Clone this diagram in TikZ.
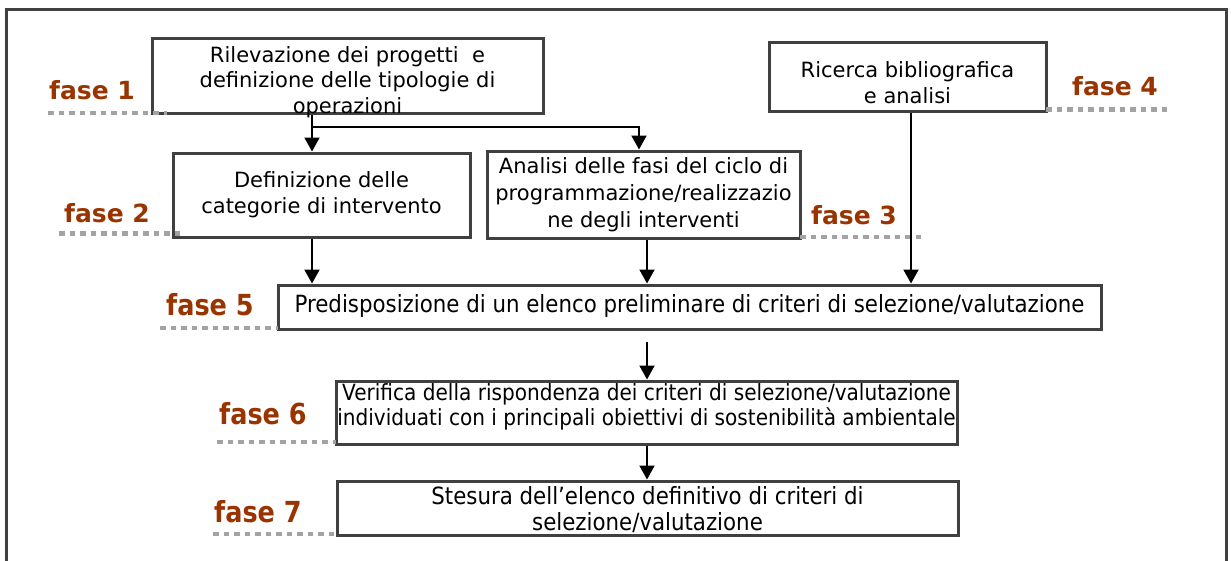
\documentclass[tikz,border=0pt]{standalone}
\usepackage{fontspec}
\setmainfont{DejaVu Sans}
\newfontfamily\condfont[FakeStretch=0.9]{DejaVu Sans}
\newfontfamily\fasecondfont[FakeStretch=0.88]{DejaVu Sans}
\usetikzlibrary{arrows.meta}
\definecolor{boxgray}{RGB}{64,64,64}
\definecolor{dotgray}{RGB}{163,163,163}
\definecolor{fasebrown}{RGB}{153,51,0}
\begin{document}
\begin{tikzpicture}[x=1pt,y=-1pt,
  box/.style={draw=boxgray, line width=3pt, inner sep=0pt, rectangle},
  boxtext/.style={align=center, inner sep=0pt, text=black},
  normtext/.style={boxtext, font=\fontsize{21}{#1}\selectfont},
  condtext/.style={boxtext, font=\condfont\fontsize{23.7}{#1}\selectfont},
  fase/.style={anchor=base west, inner sep=0pt, text=fasebrown, font=\bfseries\fontsize{25}{30}\selectfont},
  fasecond/.style={anchor=base west, inner sep=0pt, text=fasebrown, font=\fasecondfont\bfseries\fontsize{29}{34}\selectfont},
  dotline/.style={draw=dotgray, line width=4.5pt, dash pattern=on 5.5pt off 5pt},
  arr/.style={draw=black, line width=2pt, -{Triangle[width=15pt,length=14pt]}},
  frameline/.style={draw=boxgray, line width=3pt}
]
\useasboundingbox (0,0) rectangle (1231,560);

% outer frame (bottom edge cut off)
\draw[frameline] (6.5,561) -- (6.5,9.5) -- (1226,9.5) -- (1226,561);

% boxes
\node[box, minimum width=391pt, minimum height=75pt] (b1) at (347.5,75.5) {};
\node[box, minimum width=297pt, minimum height=84pt] (b2) at (321.5,195) {};
\node[box, minimum width=313pt, minimum height=87pt] (b3) at (643.5,194.5) {};
\node[box, minimum width=277pt, minimum height=69pt] (b4) at (907.5,76.5) {};
\node[box, minimum width=823pt, minimum height=44pt] (b5) at (689.5,307) {};
\node[box, minimum width=621pt, minimum height=63pt] (b6) at (646.5,412.5) {};
\node[box, minimum width=621pt, minimum height=54pt] (b7) at (647.5,508) {};

% box texts
\node[normtext=25.5] (t1) at (347.5,82) {Rilevazione dei progetti \ e\\definizione delle tipologie di\\operazioni};
\node[normtext=26] (t2) at (321.5,195) {Definizione delle\\categorie di intervento};
\node[normtext=27] (t3) at (643.5,195) {Analisi delle fasi del ciclo di\\programmazione/realizzazio\\ne degli interventi};
\node[normtext=26] (t4) at (907.5,82.5) {Ricerca bibliografica\\e analisi};
\node[condtext=28] (t5) at (689.5,306) {Predisposizione di un elenco preliminare di criteri di selezione/valutazione};
\node[boxtext, font=\condfont\fontsize{22.3}{25}\selectfont] (t6) at (646.5,407) {Verifica della rispondenza dei criteri di selezione/valutazione\\individuati con i principali obiettivi di sostenibilità ambientale};
\node[condtext=26] (t7) at (647.5,510) {Stesura dell’elenco definitivo di criteri di\\selezione/valutazione};

% phase labels
\node[fase] (f1) at (49,99) {fase 1};
\node[fase] (f2) at (64,222) {fase 2};
\node[fase] (f3) at (811,224) {fase 3};
\node[fase] (f4) at (1072,95) {fase 4};
\node[fasecond] (f5) at (166,315) {fase 5};
\node[fasecond] (f6) at (219,424) {fase 6};
\node[fasecond] (f7) at (214,522) {fase 7};

% dotted underlines
\draw[dotline] (48,113) -- (167,113);
\draw[dotline] (59,233.5) -- (180,233.5);
\draw[dotline] (800,237) -- (923,237);
\draw[dotline] (1046,109.5) -- (1169,109.5);
\draw[dotline] (160,328) -- (278,328);
\draw[dotline] (217,442) -- (336,442);
\draw[dotline] (213,534) -- (337,534);

% connector guide coordinates
\coordinate (x1) at (312,0);
\coordinate (x3) at (639,0);
\coordinate (x3b) at (647,0);
\coordinate (x4) at (911,0);
\coordinate (j1) at (312,127);
\coordinate (a5) at (647,342);

% connectors
\draw[arr] (b1.south -| x1) -- (b2.north -| x1);
\draw[arr] (j1) -| (b3.north -| x3);
\draw[arr] (b2.south -| x1) -- (b5.north -| x1);
\draw[arr] (b3.south -| x3b) -- (b5.north -| x3b);
\draw[arr] (b4.south -| x4) -- (b5.north -| x4);
\draw[arr] (a5) -- (b6.north -| a5);
\draw[arr] (b6.south -| x3b) -- (b7.north -| x3b);
\end{tikzpicture}
\end{document}
